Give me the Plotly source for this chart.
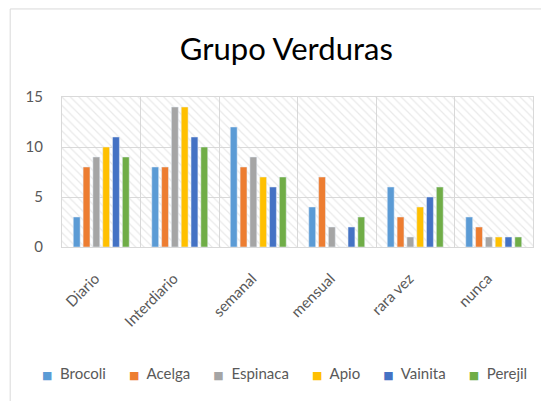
import plotly.graph_objects as go

categories = ["Diario", "Interdiario", "semanal", "mensual", "rara vez", "nunca"]
brocoli = [3, 8, 12, 4, 6, 3]
acelga = [8, 8, 8, 7, 3, 2]
espinaca = [9, 14, 9, 2, 1, 1]
apio = [10, 14, 7, 0, 4, 1]
vainita = [11, 11, 6, 2, 5, 1]
perejil = [9, 10, 7, 3, 6, 1]

series = [
    ("Brocoli", brocoli, "#5B9BD5"),
    ("Acelga", acelga, "#ED7D31"),
    ("Espinaca", espinaca, "#A5A5A5"),
    ("Apio", apio, "#FFC000"),
    ("Vainita", vainita, "#4472C4"),
    ("Perejil", perejil, "#70AD47"),
]

FONT = "Lato, Calibri, Open Sans, sans-serif"

fig = go.Figure()

# hatched plot-area background on base axes
fig.add_trace(go.Bar(
    x=[0.5], y=[15], width=[1], xaxis="x", yaxis="y",
    marker=dict(color="rgba(0,0,0,0)", line=dict(width=0),
                pattern=dict(shape="\\", fgcolor="#d4d4d4", bgcolor="rgba(0,0,0,0)",
                             size=6, solidity=0.2, fillmode="overlay")),
    showlegend=False, hoverinfo="skip"))

for name, vals, col in series:
    fig.add_trace(go.Bar(x=categories, y=vals, name=name, marker_color=col,
                         xaxis="x2", yaxis="y", showlegend=False))

legend_text = "&nbsp;&nbsp;&nbsp;&nbsp;&nbsp;&nbsp;".join(
    f"<span style='color:{c};font-family:DejaVu Sans;font-size:11px'>■</span>&nbsp;&nbsp;{n}"
    for n, _, c in series)

fig.update_layout(
    width=549, height=401,
    margin=dict(l=54, r=24, t=89, b=162, autoexpand=False),
    paper_bgcolor="white", plot_bgcolor="white",
    barmode="group", bargap=0.25, bargroupgap=0.3,
    font=dict(family=FONT, color="#595959"),
    title=dict(text="Grupo Verduras", x=0.507, xanchor="center", y=0.898, yanchor="middle",
               font=dict(family=FONT, size=31, color="#000000")),
    xaxis=dict(range=[0, 1], visible=False, fixedrange=True, automargin=False),
    xaxis2=dict(overlaying="x", anchor="y", type="category", tickson="boundaries",
                showgrid=True, gridcolor="#d9d9d9", gridwidth=1, automargin=False,
                showline=True, linecolor="#d9d9d9", mirror=True,
                ticklabelstandoff=16, ticklabelshift=-6,
                ticks="", tickangle=-45, tickfont=dict(size=15, color="#595959")),
    yaxis=dict(range=[0, 15], dtick=5, showgrid=True, gridcolor="#d9d9d9", automargin=False,
               zeroline=False, showline=True, linecolor="#d9d9d9", mirror=True,
               ticklabelstandoff=15,
               ticks="", ticklen=0, tickfont=dict(size=15, color="#595959")),
    showlegend=False,
    annotations=[dict(text=legend_text, xref="paper", yref="paper", x=0.473, y=-0.84,
                      xanchor="center", yanchor="middle", showarrow=False,
                      font=dict(family=FONT, size=15, color="#595959"))],
    shapes=[dict(type="rect", xref="paper", yref="paper", x0=-0.110, x1=1.06,
                 y0=-1.07, y1=1.587, line=dict(color="#d9d9d9", width=1),
                 fillcolor="rgba(0,0,0,0)", layer="below")],
)

fig.write_html("out.html")
